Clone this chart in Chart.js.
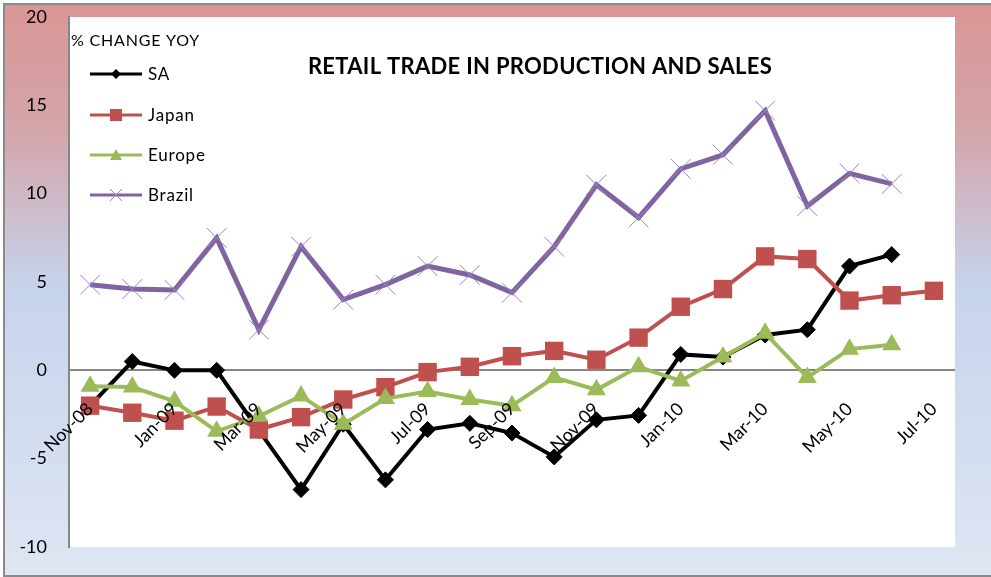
<!DOCTYPE html>
<html lang="en">

<head>
    <meta charset="UTF-8">
    <title>Retail Trade in Production and Sales</title>
    <script src="https://cdn.jsdelivr.net/npm/chart.js"></script>
    <style>
        html, body { margin: 0; padding: 0; background: #ffffff; }
        .chart-box { width: 991px; height: 577px; }
    </style>
</head>

<body>

    <div class="chart-box">
        <canvas id="retail-chart"></canvas>
    </div>

    <script>
        const months = ['Nov-08', 'Dec-08', 'Jan-09', 'Feb-09', 'Mar-09', 'Apr-09', 'May-09',
            'Jun-09', 'Jul-09', 'Aug-09', 'Sep-09', 'Oct-09', 'Nov-09', 'Dec-09',
            'Jan-10', 'Feb-10', 'Mar-10', 'Apr-10', 'May-10', 'Jun-10', 'Jul-10'];

        const saValues = [-2.0, 0.5, 0.0, 0.0, -3.4, -6.75, -3.05, -6.2, -3.35, -3.0, -3.55,
            -4.9, -2.8, -2.55, 0.9, 0.75, 2.0, 2.3, 5.9, 6.55, null];
        const japanValues = [-2.0, -2.4, -2.85, -2.05, -3.35, -2.65, -1.65, -0.95, -0.1, 0.2, 0.8,
            1.1, 0.6, 1.85, 3.6, 4.6, 6.45, 6.3, 3.95, 4.25, 4.5];
        const europeValues = [-0.9, -0.95, -1.75, -3.45, -2.6, -1.45, -3.05, -1.6, -1.2, -1.65, -2.0,
            -0.4, -1.1, 0.2, -0.6, 0.75, 2.1, -0.4, 1.2, 1.45, null];
        const brazilValues = [4.85, 4.6, 4.55, 7.5, 2.3, 7.0, 4.0, 4.85, 5.9, 5.4, 4.4,
            7.0, 10.5, 8.65, 11.4, 12.2, 14.7, 9.3, 11.15, 10.55, null];

        const yMin = -10;
        const yMax = 20;
        const yStep = 5;

        const fontFamily = 'Lato, "Open Sans", sans-serif';

        // gradient frame and white plot area behind everything
        const backdrop = {
            id: 'backdrop',
            beforeDraw(chart) {
                const ctx = chart.ctx;
                const area = chart.chartArea;
                const w = chart.width;
                const g = ctx.createLinearGradient(0, 5, 0, 576);
                g.addColorStop(0, '#d99694');
                g.addColorStop(0.22, '#d4a5aa');
                g.addColorStop(0.5, '#c6d4ed');
                g.addColorStop(1, '#dfe5f2');
                ctx.save();
                ctx.fillStyle = g;
                ctx.fillRect(4, 4, w - 4, 572);
                ctx.strokeStyle = '#8a8a8a';
                ctx.lineWidth = 2;
                ctx.beginPath();
                ctx.moveTo(w, 4);
                ctx.lineTo(4, 4);
                ctx.lineTo(4, 576);
                ctx.lineTo(w, 576);
                ctx.stroke();
                ctx.fillStyle = '#ffffff';
                ctx.fillRect(area.left, area.top, area.right - area.left, area.bottom - area.top);
                ctx.restore();
            }
        };

        // title, unit label and the legend box inside the plot
        const overlay = {
            id: 'overlay',
            afterDraw(chart) {
                const ctx = chart.ctx;
                ctx.save();
                ctx.fillStyle = '#000';
                ctx.textBaseline = 'middle';
                ctx.textAlign = 'left';
                ctx.letterSpacing = '0.8px';
                ctx.font = '16px ' + fontFamily;
                ctx.fillText('% CHANGE YOY', 71, 41);

                ctx.letterSpacing = '0.3px';
                ctx.font = 'bold 22px ' + fontFamily;
                ctx.textAlign = 'center';
                ctx.fillText('RETAIL TRADE IN PRODUCTION AND SALES', 540, 67);

                ctx.textAlign = 'left';
                ctx.letterSpacing = '0.8px';
                ctx.font = '17px ' + fontFamily;
                const rows = [74, 115, 155, 195];
                chart.data.datasets.forEach((ds, r) => {
                    const y = rows[r];
                    ctx.strokeStyle = ds.borderColor;
                    ctx.lineWidth = 3;
                    ctx.beginPath();
                    ctx.moveTo(90, y);
                    ctx.lineTo(142, y);
                    ctx.stroke();
                    ctx.fillStyle = ds.borderColor;
                    ctx.beginPath();
                    if (ds.pointStyle === 'rectRot') {
                        ctx.moveTo(116, y - 5);
                        ctx.lineTo(121, y);
                        ctx.lineTo(116, y + 5);
                        ctx.lineTo(111, y);
                        ctx.closePath();
                        ctx.fill();
                    } else if (ds.pointStyle === 'rect') {
                        ctx.rect(110, y - 6, 12, 12);
                        ctx.fill();
                    } else if (ds.pointStyle === 'triangle') {
                        ctx.moveTo(116, y - 6);
                        ctx.lineTo(122, y + 5);
                        ctx.lineTo(110, y + 5);
                        ctx.closePath();
                        ctx.fill();
                    } else {
                        ctx.strokeStyle = ds.pointBorderColor;
                        ctx.lineWidth = 1;
                        ctx.moveTo(110, y - 6);
                        ctx.lineTo(122, y + 6);
                        ctx.moveTo(122, y - 6);
                        ctx.lineTo(110, y + 6);
                        ctx.stroke();
                    }
                    ctx.fillStyle = '#000';
                    ctx.fillText(ds.label, 148, y + 1);
                });
                ctx.restore();
            }
        };

        document.addEventListener('DOMContentLoaded', function () {
            const ctx = document.getElementById('retail-chart').getContext('2d');

            new Chart(ctx, {
                type: 'line',
                data: {
                    labels: months,
                    datasets: [
                        {
                            label: 'SA',
                            data: saValues,
                            borderColor: '#000000',
                            backgroundColor: '#000000',
                            borderWidth: 4,
                            pointStyle: 'rectRot',
                            pointRadius: 8,
                            pointBackgroundColor: '#000000',
                            pointBorderColor: '#000000',
                            pointBorderWidth: 1,
                            tension: 0,
                            order: 3
                        },
                        {
                            label: 'Japan',
                            data: japanValues,
                            borderColor: '#c0504d',
                            backgroundColor: '#c0504d',
                            borderWidth: 4,
                            pointStyle: 'rect',
                            pointRadius: 13,
                            pointBackgroundColor: '#c0504d',
                            pointBorderWidth: 0,
                            tension: 0,
                            order: 2
                        },
                        {
                            label: 'Europe',
                            data: europeValues,
                            borderColor: '#9bbb59',
                            backgroundColor: '#9bbb59',
                            borderWidth: 4,
                            pointStyle: 'triangle',
                            pointRadius: 11,
                            pointBackgroundColor: '#9bbb59',
                            pointBorderWidth: 0,
                            tension: 0,
                            order: 1
                        },
                        {
                            label: 'Brazil',
                            data: brazilValues,
                            borderColor: '#8064a2',
                            backgroundColor: '#8064a2',
                            borderWidth: 5,
                            pointStyle: 'crossRot',
                            pointRadius: 14,
                            pointBorderColor: '#9a84bb',
                            pointBorderWidth: 1,
                            tension: 0,
                            order: 0
                        }
                    ]
                },
                options: {
                    responsive: true,
                    maintainAspectRatio: false,
                    animation: false,
                    layout: {
                        padding: { left: 0, top: 17, right: 36, bottom: 30 }
                    },
                    plugins: {
                        legend: { display: false },
                        title: { display: false },
                        tooltip: { enabled: false }
                    },
                    scales: {
                        x: {
                            type: 'category',
                            position: { y: 0 },
                            offset: true,
                            grid: { display: false, drawTicks: false },
                            border: { display: false },
                            ticks: {
                                z: 1,
                                autoSkip: false,
                                minRotation: 45,
                                maxRotation: 45,
                                padding: 28,
                                color: '#000000',
                                font: { family: fontFamily, size: 18 },
                                callback: function (value, index) {
                                    return index % 2 === 0 ? months[index] : '';
                                }
                            },
                            afterFit: function (scale) {
                                scale.height = 0;
                                scale.paddingLeft = 0;
                                scale.paddingRight = 0;
                                scale.paddingTop = 0;
                                scale.paddingBottom = 0;
                            }
                        },
                        y: {
                            min: yMin,
                            max: yMax,
                            grid: {
                                display: true,
                                drawTicks: false,
                                lineWidth: 2,
                                color: function (c) {
                                    return c.tick && c.tick.value === 0 ? '#868686' : 'rgba(0,0,0,0)';
                                }
                            },
                            border: { color: '#868686', width: 2 },
                            ticks: {
                                stepSize: yStep,
                                padding: 22,
                                color: '#000000',
                                font: { family: fontFamily, size: 18 }
                            },
                            afterFit: function (scale) {
                                scale.width = 69;
                                scale.paddingTop = 0;
                                scale.paddingBottom = 0;
                            }
                        }
                    }
                },
                plugins: [backdrop, overlay]
            });
        });
    </script>

</body>

</html>
